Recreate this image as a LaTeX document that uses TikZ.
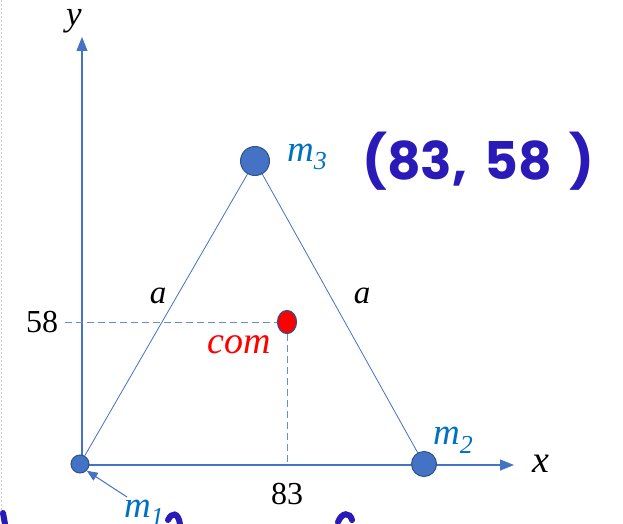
\documentclass[tikz,border=0pt]{standalone}
\usepackage{fontspec}
\setmainfont{Liberation Serif}
\newfontfamily\handfont{Poppins}
\usetikzlibrary{arrows.meta,shapes.geometric}
\definecolor{axisblue}{HTML}{4472C4}
\definecolor{massfill}{HTML}{4472C4}
\definecolor{massedge}{HTML}{2F528F}
\definecolor{lblblue}{HTML}{0070C0}
\definecolor{inkblue}{HTML}{2A1AB8}
\tikzset{
  axis/.style={axisblue, line width=1.1pt, -{Triangle[length=14pt,width=11pt]}},
  side/.style={axisblue, line width=0.8pt},
  guide/.style={axisblue!80, line width=0.9pt, dash pattern=on 7pt off 4pt},
  mass/.style={circle, fill=massfill, draw=massedge, line width=1pt, inner sep=0pt},
  mlabel/.style={lblblue, font=\fontsize{37}{37}\selectfont\itshape, inner sep=0pt},
  plain/.style={black, font=\fontsize{32}{32}\selectfont, inner sep=0pt},
  axlabel/.style={black, font=\fontsize{38}{38}\selectfont\itshape, inner sep=0pt},
  ink/.style={inkblue, font=\handfont\bfseries\fontsize{52}{52}\selectfont, inner sep=0pt},
  blob/.style={inkblue, line width=6pt, line cap=round}
}
\begin{document}
\begin{tikzpicture}[x=1pt,y=-1pt]
\useasboundingbox (0,0) rectangle (623,524);
\fill[white] (0,0) rectangle (623,524);
\draw[gray!40, dash pattern=on 2pt off 2pt] (1.5,0) -- (1.5,524);
% coordinates
\coordinate (O) at (82,465);
\coordinate (ytip) at (82,37);
\coordinate (xtip) at (514,465);
\coordinate (ytick) at (65,322);
\coordinate (xtick) at (287,465);
% axes
\draw[axis] (O) -- (ytip);
\draw[axis] (O) -- (xtip);
\node[axlabel, font=\fontsize{35}{35}\selectfont\itshape, anchor=base] (ylab) at (74,26) {y};
\node[axlabel] (xlab) at (541,464) {x};
% masses
\node[mass, minimum size=18pt] (m1) at (80,464) {};
\node[mass, minimum size=25pt] (m2) at (424,464) {};
\node[mass, minimum size=29pt] (m3) at (255,161) {};
\draw[side] (m1) -- (m3);
\draw[side] (m3) -- (m2);
% com
\node[ellipse, fill=red, draw=massedge, line width=1.2pt, minimum width=19pt, minimum height=23pt, inner sep=0pt] (com) at (287,322) {};
\draw[guide] (ytick) -- (com.west);
\draw[guide] (com.south) -- (xtick);
\node[plain] (n58) at (42,322) {58};
\node[plain] (n83) at (287,494) {83};
\node[red, font=\fontsize{38}{38}\selectfont\itshape, inner sep=0pt] (comlab) at (239,345) {com};
\node[axlabel, font=\fontsize{33}{33}\selectfont\itshape] (a1) at (158,296) {a};
\node[axlabel, font=\fontsize{33}{33}\selectfont\itshape] (a2) at (362,296) {a};
% labels
\node[mlabel, anchor=west] (l3) at (287,157) {m\textsubscript{3}};
\node[mlabel, anchor=west] (l2) at (433,440) {m\textsubscript{2}};
\node[mlabel, anchor=west] (l1) at (124,513) {m\textsubscript{1}};
\draw[axisblue, line width=1pt, -{Triangle[length=11pt,width=9pt]}] (127,497) -- (m1.south east);
% handwriting
\node[ink, anchor=west] (hw) at (362,161) {(83,\,\,58\,\,)};
\draw[blob] (3,513) -- (5,524);
\draw[blob] (168,520) .. controls (172,512) and (178,512) .. (180,524);
\draw[blob] (338,522) .. controls (342,512) and (350,512) .. (352,520);
\end{tikzpicture}
\end{document}
